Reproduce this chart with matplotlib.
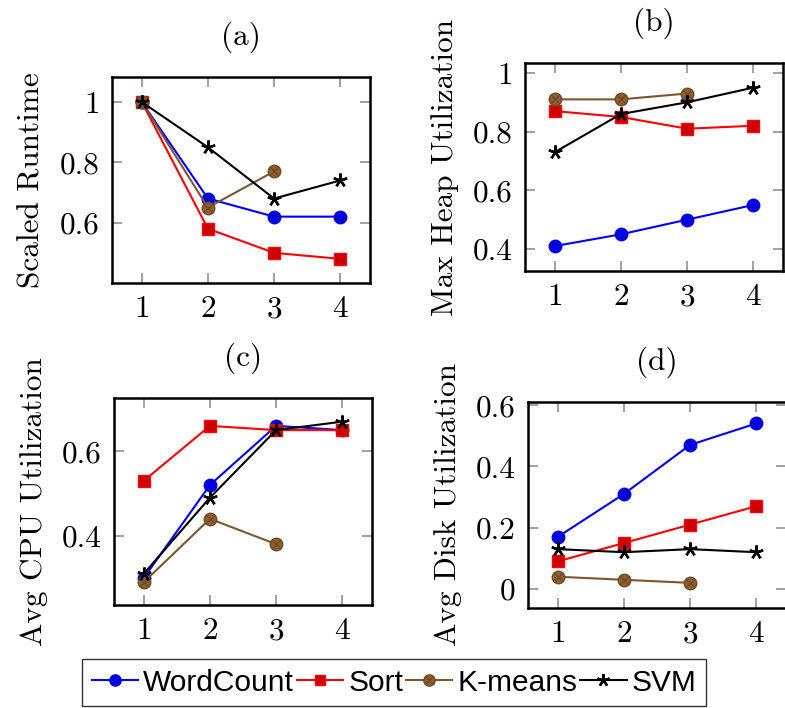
import matplotlib.pyplot as plt
from matplotlib.path import Path
from matplotlib.ticker import FixedLocator

plt.rcParams['font.family'] = 'cmr10'
plt.rcParams['axes.formatter.use_mathtext'] = True

# ---- data ----
runs = [1, 2, 3, 4]
runs_km = [1, 2, 3]

runtime_wc = [1.0, 0.68, 0.62, 0.62]
runtime_sort = [1.0, 0.58, 0.50, 0.48]
runtime_km = [1.0, 0.65, 0.77]
runtime_svm = [1.0, 0.85, 0.68, 0.74]

heap_wc = [0.41, 0.45, 0.50, 0.55]
heap_sort = [0.87, 0.85, 0.81, 0.82]
heap_km = [0.91, 0.91, 0.93]
heap_svm = [0.73, 0.86, 0.90, 0.95]

cpu_wc = [0.30, 0.52, 0.66, 0.65]
cpu_sort = [0.53, 0.66, 0.65, 0.65]
cpu_km = [0.29, 0.44, 0.38]
cpu_svm = [0.31, 0.49, 0.65, 0.67]

disk_wc = [0.17, 0.31, 0.47, 0.54]
disk_sort = [0.09, 0.15, 0.21, 0.27]
disk_km = [0.04, 0.03, 0.02]
disk_svm = [0.13, 0.12, 0.13, 0.12]

titles = ['(a)', '(b)', '(c)', '(d)']
ylabels = ['Scaled Runtime', 'Max Heap Utilization',
           'Avg CPU Utilization', 'Avg Disk Utilization']
yticks = [[0.6, 0.8, 1.0], [0.4, 0.6, 0.8, 1.0], [0.4, 0.6], [0.0, 0.2, 0.4, 0.6]]
yticklabels = [['0.6', '0.8', '1'], ['0.4', '0.6', '0.8', '1'],
               ['0.4', '0.6'], ['0', '0.2', '0.4', '0.6']]
ylims = [(0.40, 1.083), (0.325, 1.034), (0.236, 0.726), (-0.062, 0.61)]
series_names = ['WordCount', 'Sort', 'K-means', 'SVM']

panels = [
    (runtime_wc, runtime_sort, runtime_km, runtime_svm),
    (heap_wc, heap_sort, heap_km, heap_svm),
    (cpu_wc, cpu_sort, cpu_km, cpu_svm),
    (disk_wc, disk_sort, disk_km, disk_svm),
]

# axes boxes in pixels: left, right, top, bottom
W, H = 785, 708
boxes = [(112, 370, 77, 283), (525, 783, 63, 271),
         (114, 372, 398, 605), (528, 786, 402, 608)]

# otimes marker (circle with a cross)
cross = Path([(-0.7, -0.7), (0.7, 0.7), (-0.7, 0.7), (0.7, -0.7)],
             [Path.MOVETO, Path.LINETO, Path.MOVETO, Path.LINETO])
otimes = Path.make_compound_path(Path.unit_circle(), cross)

styles = [
    dict(color='#0000ff', marker='o', markerfacecolor='#0000d9', markeredgecolor='#0000ff', markersize=9),
    dict(color='#ff0000', marker='s', markerfacecolor='#cc0000', markeredgecolor='#ff0000', markersize=8.5),
    dict(color='#7d5630', marker=otimes, markerfacecolor='#8f5f30', markeredgecolor='#6e4a26', markersize=9),
    dict(color='black', marker=(5, 2, 0), markerfacecolor='black', markeredgecolor='black', markersize=10, markeredgewidth=1.7),
]

FS = 22.5

fig = plt.figure(figsize=(W / 100, H / 100), dpi=100)

handles = []
for i, (l, r, t, b) in enumerate(boxes):
    ax = fig.add_axes([l / W, 1 - b / H, (r - l) / W, (b - t) / H])
    for j, vals in enumerate(panels[i]):
        xs = runs_km if j == 2 else runs
        ln, = ax.plot(xs, vals, linewidth=1.5, label=series_names[j], **styles[j])
        if i == 0:
            handles.append(ln)
    ax.set_xlim(0.55, 4.45)
    ax.set_ylim(*ylims[i])
    ax.xaxis.set_major_locator(FixedLocator(runs))
    ax.set_xticklabels([str(x) for x in runs])
    ax.yaxis.set_major_locator(FixedLocator(yticks[i]))
    ax.set_yticklabels(yticklabels[i])
    ax.tick_params(direction='in', length=7, width=1.1, color='#888888',
                   top=True, right=True, labelsize=FS, pad=9)
    for s in ax.spines.values():
        s.set_linewidth(1.8)
    ax.set_title(titles[i], fontsize=FS, pad=23.5)
    ax.set_ylabel(ylabels[i], fontsize=FS, labelpad=10)

leg = fig.legend(handles=handles, loc='upper left',
                 bbox_to_anchor=(82 / W, 1 - 659 / H), ncol=4,
                 prop=dict(family='Liberation Sans', size=21.5),
                 frameon=True, fancybox=False, edgecolor='black',
                 handlelength=1.55, handletextpad=0.17, columnspacing=0.1,
                 borderpad=0.32, markerscale=0.9, borderaxespad=0)
leg.get_frame().set_linewidth(1.0)

fig.savefig('out.png', dpi=100)
